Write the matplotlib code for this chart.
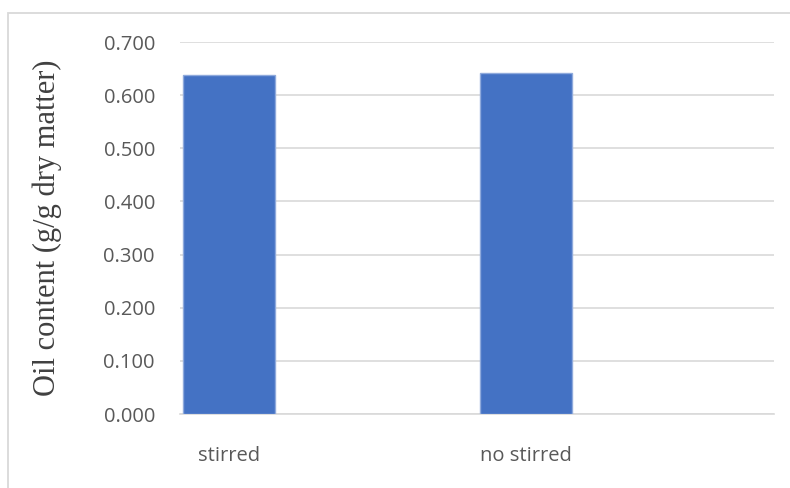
import matplotlib.pyplot as plt
from matplotlib.patches import Rectangle

categories = ['stirred', 'no stirred']
oil_content = [0.638, 0.641]
y_ticks = [0.0, 0.1, 0.2, 0.3, 0.4, 0.5, 0.6, 0.7]

fig = plt.figure(figsize=(7.9, 4.88), dpi=100)

# light frame round the chart area (runs off the right and bottom edge)
fig.patches.append(Rectangle((8 / 790, -0.05), 1.0, 1 - 13 / 488 + 0.05,
                             transform=fig.transFigure, fill=False,
                             edgecolor='#D9D9D9', linewidth=1.3))

ax = fig.add_axes([180 / 790, 74 / 488, 594 / 790, 372 / 488])

# each category takes one unit; the bar sits at the left of its slot
bar_width = 0.31
lefts = [i + 0.01 for i in range(len(categories))]
ax.bar(lefts, oil_content, width=bar_width, align='edge',
       color='#4472C4', edgecolor='#8FAADC', linewidth=1.0, zorder=3)

ax.set_xlim(0, 2)
ax.set_ylim(0, 0.7)
ax.set_yticks(y_ticks)
ax.set_yticklabels([f'{v:.3f}' for v in y_ticks])
ax.set_xticks([l + bar_width / 2 for l in lefts])
ax.set_xticklabels(categories)

ax.grid(axis='y', color='#D9D9D9', linewidth=1.2, zorder=0)
for side in ['top', 'right', 'left']:
    ax.spines[side].set_visible(False)
ax.spines['bottom'].set_color('#D9D9D9')
ax.spines['bottom'].set_linewidth(1.2)

ax.tick_params(axis='both', length=0, labelsize=14.5, labelcolor='#595959')
ax.tick_params(axis='y', pad=18)
ax.tick_params(axis='x', pad=23)
for lbl in ax.get_xticklabels() + ax.get_yticklabels():
    lbl.set_fontfamily('Open Sans')

fig.text(47 / 790, 1 - 228 / 488, 'Oil content (g/g dry matter)', rotation=90,
         ha='center', va='center', fontsize=22, color='#404040',
         family='Liberation Serif')

fig.savefig('out.png', dpi=100)
